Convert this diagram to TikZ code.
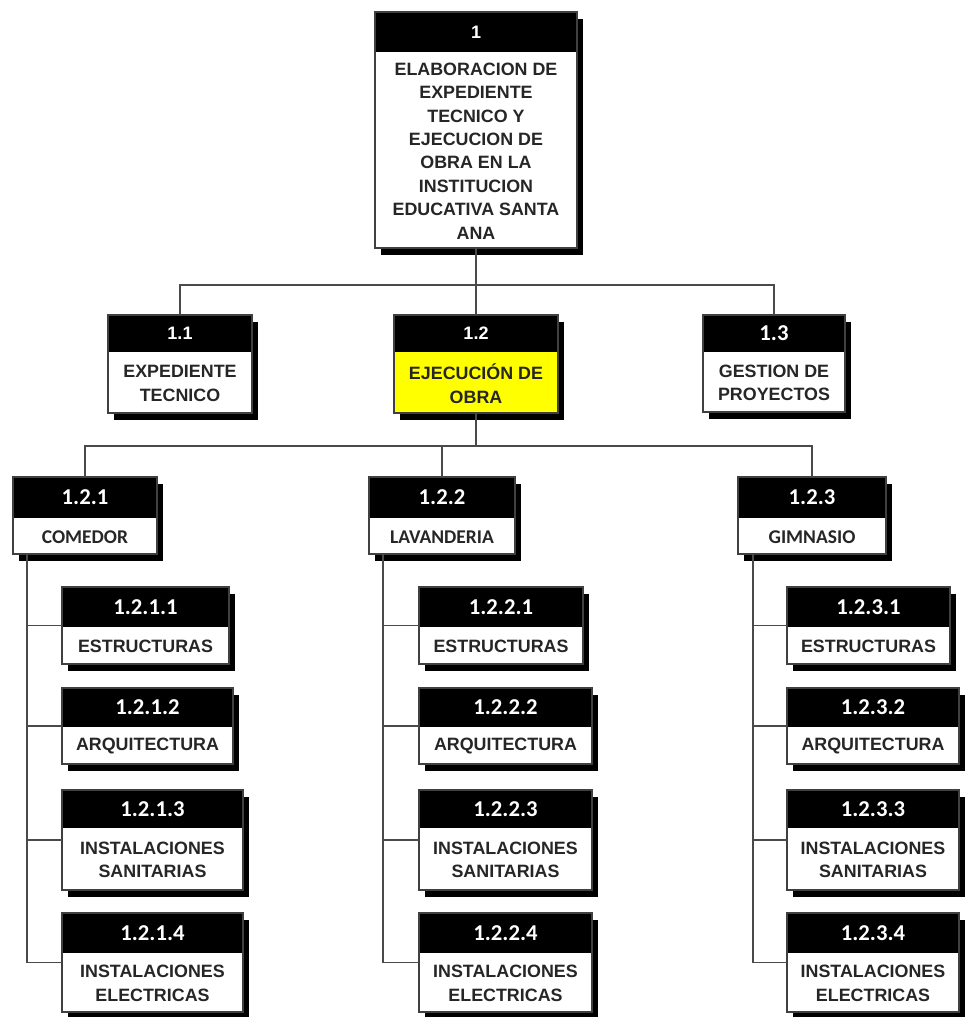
\documentclass[tikz,border=0pt]{standalone}
\usepackage{fontspec}
\setmainfont{Liberation Sans}
\newfontfamily\calibfont{Carlito}
\usetikzlibrary{calc}

\definecolor{txtgray}{HTML}{262626}
\definecolor{linegray}{HTML}{4A4A4A}
\definecolor{wbsyellow}{HTML}{FFFF00}

\tikzset{
  boxshadow/.style={fill=black},
  boxframe/.style={draw=black!75, line width=0.9pt, fill=white, inner sep=0pt, outer sep=0pt},
  frameline/.style={draw=black!75, line width=0.9pt},
  conn/.style={draw=linegray, line width=1.3pt},
  % fonts for the upper levels (Arial metrics)
  numstyle/.style={text=white, font=\fontsize{13.5}{15}\selectfont\bfseries, inner sep=0pt},
  txtstyle/.style={text=txtgray, font=\fontsize{13.4}{17.6}\selectfont\bfseries, align=center, inner sep=0pt},
  % fonts for the work packages (Calibri metrics)
  cnumstyle/.style={text=white, font=\calibfont\fontsize{17}{19}\selectfont\bfseries, inner sep=0pt},
  ctxtstyle/.style={text=txtgray, font=\calibfont\fontsize{14.6}{17}\selectfont\bfseries, align=center, inner sep=0pt},
}

% #1 extra box style, #2 name, #3 left, #4 top, #5 right, #6 header bottom, #7 bottom,
% #8 number, #9 title
\newcommand\wbsbox[9][]{%
  \fill[boxshadow] (#3+6,#4+7) rectangle (#5+6,#7+7);
  \node[boxframe,#1,minimum width={(#5-#3)*0.75pt},minimum height={(#7-#4)*0.75pt},anchor=north west] (#2) at (#3,#4) {};
  \fill[black] (#3,#4) rectangle (#5,#6);
  \draw[frameline] (#2.north west) rectangle (#2.south east);
  \node[numstyle] (#2-num) at ({(#3+#5)/2},{(#4+#6)/2}) {#8};
  \node[txtstyle] (#2-txt) at ({(#3+#5)/2},{(#6+#7)/2+1}) {#9};
}

\begin{document}
\begin{tikzpicture}[x=0.75pt,y=-0.75pt]
\useasboundingbox (0,0) rectangle (966,1017);

% level 1
\wbsbox{b1}{375}{12}{577}{52}{248}{1}{ELABORACION DE\\EXPEDIENTE\\TECNICO Y\\EJECUCION DE\\OBRA EN LA\\INSTITUCION\\EDUCATIVA SANTA\\ANA}

% level 2
\wbsbox{b11}{108}{315}{252}{352}{413}{1.1}{EXPEDIENTE\\TECNICO}
\wbsbox[fill=wbsyellow]{b12}{394}{315}{558}{352}{413}{1.2}{EJECUCIÓN DE\\OBRA}
\begin{scope}[numstyle/.style={cnumstyle}]
\wbsbox{b13}{703}{315}{845}{352}{412}{1.3}{GESTION DE\\PROYECTOS}
\end{scope}

% level 3
\begin{scope}[numstyle/.style={cnumstyle}, txtstyle/.style={ctxtstyle}]
\wbsbox{b121}{13}{477}{157}{518}{554}{1.2.1}{COMEDOR}
\wbsbox{b122}{369}{477}{515}{518}{554}{1.2.2}{LAVANDERIA}
\wbsbox{b123}{738}{477}{886}{518}{554}{1.2.3}{GIMNASIO}
\end{scope}

% level 4
\begin{scope}[numstyle/.style={cnumstyle}]
\wbsbox{b1211}{62}{587}{229}{627}{664}{1.2.1.1}{ESTRUCTURAS}
\wbsbox{b1212}{62}{688}{233}{727}{764}{1.2.1.2}{ARQUITECTURA}
\wbsbox{b1213}{62}{790}{243}{828}{890}{1.2.1.3}{INSTALACIONES\\SANITARIAS}
\wbsbox{b1214}{62}{913}{243}{953}{1012}{1.2.1.4}{INSTALACIONES\\ELECTRICAS}

\wbsbox{b1221}{419}{587}{583}{627}{664}{1.2.2.1}{ESTRUCTURAS}
\wbsbox{b1222}{419}{688}{592}{727}{764}{1.2.2.2}{ARQUITECTURA}
\wbsbox{b1223}{419}{790}{592}{828}{890}{1.2.2.3}{INSTALACIONES\\SANITARIAS}
\wbsbox{b1224}{419}{913}{592}{953}{1012}{1.2.2.4}{INSTALACIONES\\ELECTRICAS}

\wbsbox{b1231}{787}{587}{950}{627}{664}{1.2.3.1}{ESTRUCTURAS}
\wbsbox{b1232}{787}{688}{959}{727}{764}{1.2.3.2}{ARQUITECTURA}
\wbsbox{b1233}{787}{790}{959}{828}{890}{1.2.3.3}{INSTALACIONES\\SANITARIAS}
\wbsbox{b1234}{787}{913}{959}{953}{1012}{1.2.3.4}{INSTALACIONES\\ELECTRICAS}
\end{scope}

% connectors: level 1 to level 2
\coordinate (bar1) at (476,285);
\draw[conn] (b1.south) -- (bar1);
\draw[conn] (b11.north) |- (bar1);
\draw[conn] (b13.north) |- (bar1);
\draw[conn] (b12.north) -- (bar1);

% connectors: 1.2 to level 3
\coordinate (bar2) at (476,446);
\draw[conn] (b12.south) -- (bar2);
\draw[conn] (b121.north) |- (bar2);
\draw[conn] (b123.north) |- (bar2);
\draw[conn] (b122.north) |- (bar2);

% connectors: level 3 to level 4 (side spines)
\foreach \p/\dx in {121/14, 122/14, 123/15} {
  \coordinate (s\p) at ($(b\p.south west)+(\dx,0)$);
  \draw[conn] (s\p) |- (b\p4.west);
  \foreach \k in {1,2,3} {
    \draw[conn] (b\p\k.west) -- (b\p\k.west -| s\p);
  }
}
\end{tikzpicture}
\end{document}
